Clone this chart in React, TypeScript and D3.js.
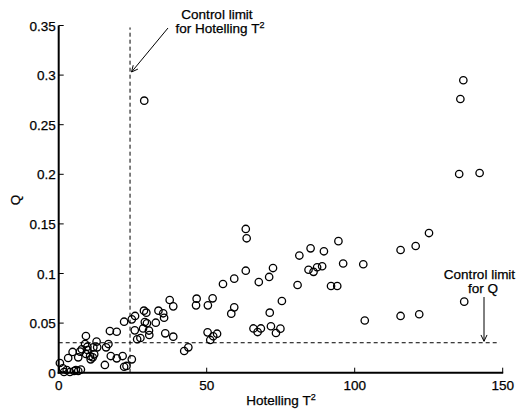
import React from "react";
import * as d3 from "d3";

const W = 517;
const H = 410;

// Hotelling T^2 values
const tValues = [
  0.4, 1.4, 2.7, 3.2, 4.7, 5.8, 6.6, 7.5, 6.6, 7.2, 7.8, 9.2, 8.9, 9.7, 10.6, 10.8, 9.2, 9.7, 11.7, 12.8,
  13.0, 11.5, 16.0, 16.8, 15.6, 17.3, 19.6, 17.6, 19.6, 21.6, 22.1, 22.9, 24.7, 22.1, 12.0, 1.8, 3.8, 5.2,
  24.7, 25.8, 25.7, 26.5, 27.6, 28.8, 29.6, 29.1, 29.8, 28.5, 30.5, 30.6, 32.8, 33.7, 35.3, 35.6, 36.0, 38.7,
  37.5, 38.7, 42.4, 43.8, 46.6, 46.4, 28.9,
  50.4, 52.0, 50.3, 53.5, 52.2, 51.2, 55.5, 59.3, 63.2, 59.3, 58.3, 63.2, 63.5, 67.6, 71.1, 72.4, 71.3, 75.4,
  65.8, 67.2, 68.3, 71.7, 73.4, 74.9, 80.7, 81.3,
  85.1, 89.6, 94.5, 84.4, 86.1, 87.3, 89.0, 96.1, 102.9, 92.0, 94.1, 103.4,
  115.5, 120.6, 125.1, 115.5, 121.8, 137.0, 135.3, 142.2, 136.7, 135.7,
];

// Q values
const qValues = [
  0.0098, 0.0044, 0.0027, 0.0148, 0.0209, 0.0027, 0.0017, 0.0032, 0.0155, 0.0212, 0.0236, 0.037, 0.0289, 0.0229,
  0.0168, 0.0135, 0.0189, 0.0262, 0.0256, 0.0313, 0.0256, 0.0155, 0.0256, 0.0289, 0.0078, 0.042, 0.0413, 0.0168,
  0.0145, 0.0168, 0.006, 0.0068, 0.0135, 0.0514, 0.0185, 0.0007, 0.0007, 0.0017,
  0.0538, 0.0572, 0.0427, 0.0337, 0.035, 0.0625, 0.0605, 0.0511, 0.0498, 0.0446, 0.0425, 0.038, 0.0504, 0.0625,
  0.0599, 0.0554, 0.0397, 0.0363, 0.0733, 0.0669, 0.0219, 0.0256, 0.0746, 0.0679, 0.2742,
  0.0679, 0.075, 0.0407, 0.0393, 0.0367, 0.033, 0.0894, 0.0948, 0.1028, 0.0659, 0.0595, 0.1449, 0.1355, 0.0914,
  0.0965, 0.1055, 0.0605, 0.0723, 0.0446, 0.041, 0.0446, 0.0468, 0.04, 0.0444, 0.0884, 0.1181,
  0.1254, 0.1224, 0.1326, 0.1038, 0.1017, 0.1063, 0.1073, 0.1101, 0.1093, 0.0874, 0.0874, 0.0526,
  0.1237, 0.1277, 0.1408, 0.0572, 0.0589, 0.0716, 0.2003, 0.2013, 0.2948, 0.2759,
];

const xTicks = [0, 50, 100, 150];
const yTicks = [0, 0.05, 0.1, 0.15, 0.2, 0.25, 0.3, 0.35];
const yTickLabels = ["0", "0.05", "0.1", "0.15", "0.2", "0.25", "0.3", "0.35"];

const t2Limit = 24.1;
const qLimit = 0.0302;

const FONT = "'Liberation Sans', Arial, Helvetica, sans-serif";

export default function App() {
  const x = d3.scaleLinear().domain([0, 150]).range([58.7, 502.7]);
  const y = d3.scaleLinear().domain([0, 0.35]).range([372.7, 25.5]);

  const points = tValues.map((t, i) => ({ t, q: qValues[i] }));

  const fs = 13.5;
  const textStyle = { stroke: "#000", strokeWidth: 0.25 };

  const arrowHead = (x1: number, y1: number, x2: number, y2: number, len = 7, ang = 0.45) => {
    const a = Math.atan2(y2 - y1, x2 - x1);
    const p1 = [x2 - len * Math.cos(a - ang), y2 - len * Math.sin(a - ang)];
    const p2 = [x2 - len * Math.cos(a + ang), y2 - len * Math.sin(a + ang)];
    return `M${p1[0]},${p1[1]}L${x2},${y2}L${p2[0]},${p2[1]}`;
  };

  const a1 = { x1: 168, y1: 28, x2: x(t2Limit) + 1.5, y2: 72 };
  const a2 = { x1: 484, y1: 297, x2: 484, y2: y(qLimit) - 1.5 };

  return (
    <svg
      width={W}
      height={H}
      style={{ position: "absolute", left: 0, top: 0, background: "#fff" }}
      fontFamily={FONT}
    >
      <rect x={0} y={0} width={W} height={H} fill="#fff" />

      {/* control limits */}
      <line
        x1={x(t2Limit)}
        x2={x(t2Limit)}
        y1={y(0)}
        y2={y(0.348)}
        stroke="#000"
        strokeWidth={1}
        strokeDasharray="4,3"
      />
      <line
        x1={x(0)}
        x2={x(149)}
        y1={y(qLimit)}
        y2={y(qLimit)}
        stroke="#000"
        strokeWidth={1}
        strokeDasharray="4,3"
      />

      {/* points */}
      {points.map((p, i) => (
        <circle
          key={i}
          cx={x(p.t)}
          cy={y(p.q)}
          r={3.7}
          fill="none"
          stroke="#000"
          strokeWidth={1.3}
        />
      ))}

      {/* axes */}
      <line x1={x(0)} x2={x(0)} y1={y(0) + 1} y2={y(0.35)} stroke="#000" strokeWidth={2} />
      <line x1={x(0) - 1} x2={x(150) + 0.5} y1={y(0)} y2={y(0)} stroke="#000" strokeWidth={2} />
      {xTicks.map((v) => (
        <g key={"xt" + v}>
          <line x1={x(v)} x2={x(v)} y1={y(0)} y2={y(0) - 5} stroke="#000" strokeWidth={1} />
          <text x={x(v)} y={y(0) + 17} textAnchor="middle" fontSize={fs} style={textStyle}>
            {v}
          </text>
        </g>
      ))}
      {yTicks.map((v, i) => (
        <g key={"yt" + v}>
          <line x1={x(0)} x2={x(0) + 5} y1={y(v)} y2={y(v)} stroke="#000" strokeWidth={1} />
          <text x={x(0) - 3} y={y(v) + 5} textAnchor="end" fontSize={fs} style={textStyle}>
            {yTickLabels[i]}
          </text>
        </g>
      ))}

      {/* axis labels */}
      <text x={281} y={405} textAnchor="middle" fontSize={fs} style={textStyle}>
        Hotelling T<tspan dy={-5} fontSize={9}>2</tspan>
      </text>
      <text transform="translate(20,200) rotate(-90)" textAnchor="middle" fontSize={fs} style={textStyle}>
        Q
      </text>

      {/* annotation T2 */}
      <text x={217} y={18.5} textAnchor="middle" fontSize={fs} style={textStyle}>
        Control limit
      </text>
      <text x={220} y={33} textAnchor="middle" fontSize={fs} style={textStyle}>
        for Hotelling T<tspan dy={-5} fontSize={9}>2</tspan>
      </text>
      <line x1={a1.x1} y1={a1.y1} x2={a1.x2} y2={a1.y2} stroke="#000" strokeWidth={1} />
      <path d={arrowHead(a1.x1, a1.y1, a1.x2, a1.y2)} fill="none" stroke="#000" strokeWidth={1} />

      {/* annotation Q */}
      <text x={479.5} y={279} textAnchor="middle" fontSize={fs} style={textStyle}>
        Control limit
      </text>
      <text x={483} y={292.5} textAnchor="middle" fontSize={fs} style={textStyle}>
        for Q
      </text>
      <line x1={a2.x1} y1={a2.y1} x2={a2.x2} y2={a2.y2} stroke="#000" strokeWidth={1} />
      <path d={arrowHead(a2.x1, a2.y1, a2.x2, a2.y2)} fill="none" stroke="#000" strokeWidth={1} />
    </svg>
  );
}
